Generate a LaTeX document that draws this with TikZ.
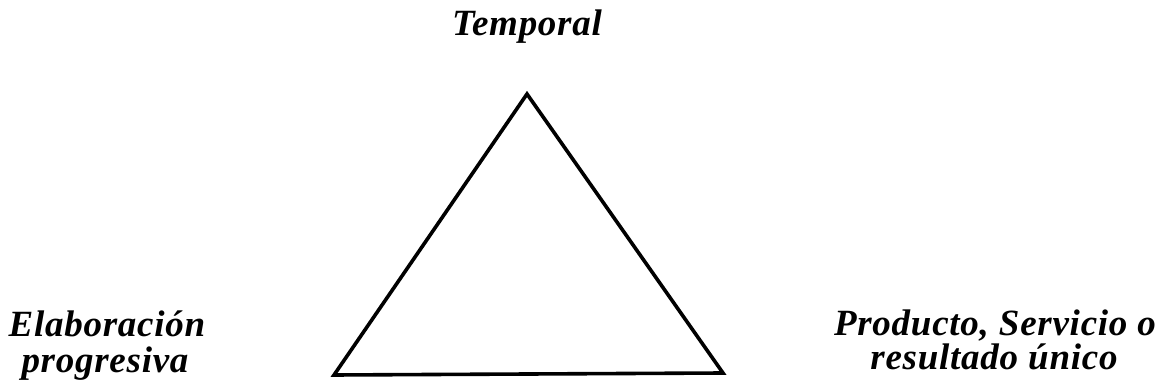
\documentclass[tikz,border=0pt]{standalone}
\usepackage{fontspec}
\setmainfont{Liberation Serif}[LetterSpace=2]
\begin{document}
\begin{tikzpicture}[x=1pt,y=-1pt,
  lbl/.style={font=\fontsize{37}{33}\selectfont\bfseries\itshape, anchor=base, inner sep=0pt, align=center},
  tri/.style={line width=3.6pt, line join=miter}]
\useasboundingbox (0,0) rectangle (1163,390);
\coordinate (A) at (527,94);
\coordinate (B) at (334,375);
\coordinate (C) at (723,373);
\draw[tri] (A) -- (B) -- (C) -- cycle;
\node[lbl] (t) at (527,36) {Temporal};
\node[lbl] (l1) at (107,337) {Elaboración};
\node[lbl] (l2) at (105,373) {progresiva};
\node[lbl] (r1) at (995,335) {Producto, Servicio o};
\node[lbl] (r2) at (994,370) {resultado único};
\end{tikzpicture}
\end{document}
